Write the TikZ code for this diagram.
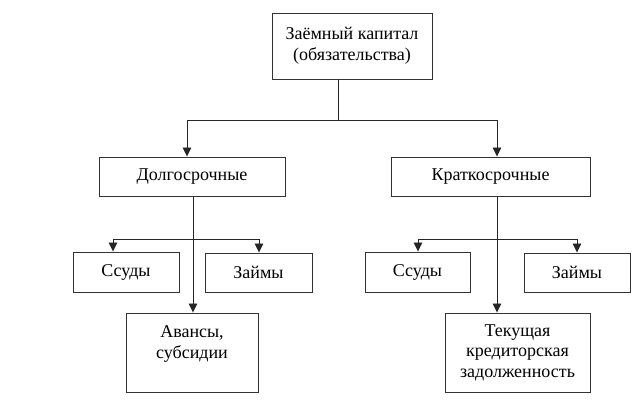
\documentclass[tikz,border=0pt]{standalone}
\usepackage{fontspec}
\setmainfont{Liberation Serif}
\newfontfamily\boxfont{Liberation Serif}
\usetikzlibrary{arrows.meta,calc}
\begin{document}
\begin{tikzpicture}[x=1pt,y=-1pt,
  box/.style={draw=black!80,line width=0.9pt,fill=white,inner sep=0pt,align=center,
    font=\boxfont\fontsize{18}{20.5}\selectfont},
  conn/.style={line width=0.9pt,draw=black!85},
  arr/.style={conn,-{Triangle[width=8.5pt,length=9pt]}}]
\useasboundingbox (0,0) rectangle (641,409);
\node[box,minimum width=160,minimum height=66] (top) at (352,46) {Заёмный капитал\\(обязательства)};
\node[box,minimum width=186,minimum height=39] (dolgo) at (192,176.5) {Долгосрочные};
\node[box,minimum width=199,minimum height=39] (kratko) at (490.5,176.5) {Краткосрочные};
\node[box,minimum width=106,minimum height=40] (ssL) at (126,272) {Ссуды};
\node[box,minimum width=107,minimum height=39] (zaL) at (258.5,272.5) {Займы};
\node[box,minimum width=105,minimum height=40] (ssR) at (417.5,272) {Ссуды};
\node[box,minimum width=106,minimum height=39] (zaR) at (577,272.5) {Займы};
\node[box,minimum width=132,minimum height=79] (avans) at (192,352.5) {Авансы,\\субсидии\\\mbox{}};
\node[box,minimum width=145,minimum height=79] (tek) at (517.5,352.5) {Текущая\\кредиторская\\задолженность};
% top level
\coordinate (trunk) at (338,120);
\coordinate (jL) at (187,120);
\coordinate (jR) at (497,120);
\draw[conn] (top.south -| trunk) -- (trunk);
\draw[conn] (jL) -- (jR);
\draw[arr] (jL) -- (jL |- dolgo.north);
\draw[arr] (jR) -- (jR |- kratko.north);
% left branch
\coordinate (lv) at (193,239);
\coordinate (lbL) at (113,239);
\coordinate (lbR) at (259,239);
\draw[arr] (lv |- dolgo.south) -- (lv |- avans.north);
\draw[conn] (lbL) -- (lbR);
\draw[arr] (lbL) -- (lbL |- ssL.north);
\draw[arr] (lbR) -- (lbR |- zaL.north);
% right branch
\coordinate (rv) at (497,239);
\coordinate (rbL) at (418,239);
\coordinate (rbR) at (577,239);
\draw[arr] (rv |- kratko.south) -- (rv |- tek.north);
\draw[conn] (rbL) -- (rbR);
\draw[arr] (rbL) -- (rbL |- ssR.north);
\draw[arr] (rbR) -- (rbR |- zaR.north);
\end{tikzpicture}
\end{document}
